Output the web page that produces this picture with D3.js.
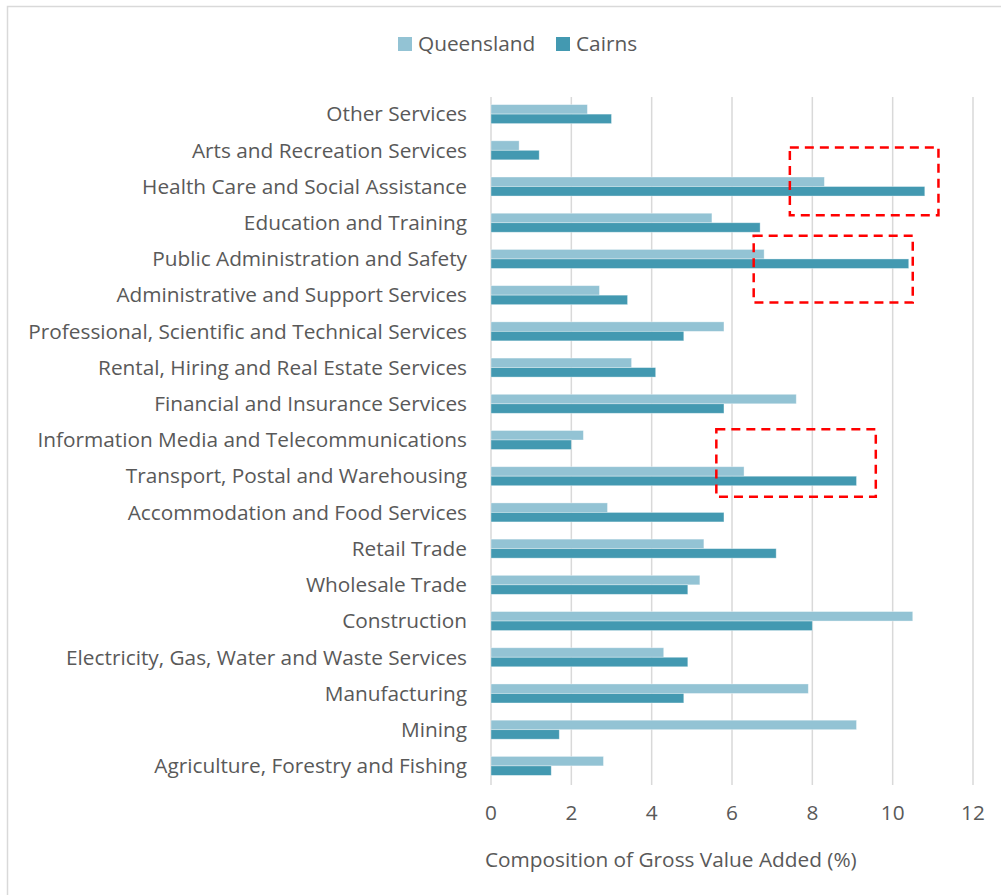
<!DOCTYPE html>
<html>
<head>
<meta charset="utf-8">
<script src="https://cdn.jsdelivr.net/npm/d3@7"></script>
<style>
    body { margin: 0; background: #fff; }
    svg { display: block; font-family: "Open Sans", sans-serif; }
    .grid line { stroke: #d9d9d9; stroke-width: 1.5; }
    .label { fill: #595959; font-size: 20.8px; }
</style>
</head>
<body>
<svg class="chart" width="1001" height="895"></svg>
<script>
const categories = [
    "Other Services",
    "Arts and Recreation Services",
    "Health Care and Social Assistance",
    "Education and Training",
    "Public Administration and Safety",
    "Administrative and Support Services",
    "Professional, Scientific and Technical Services",
    "Rental, Hiring and Real Estate Services",
    "Financial and Insurance Services",
    "Information Media and Telecommunications",
    "Transport, Postal and Warehousing",
    "Accommodation and Food Services",
    "Retail Trade",
    "Wholesale Trade",
    "Construction",
    "Electricity, Gas, Water and Waste Services",
    "Manufacturing",
    "Mining",
    "Agriculture, Forestry and Fishing"
];
const seriesNames = ["Queensland", "Cairns"];
const queensland = [2.4, 0.7, 8.3, 5.5, 6.8, 2.7, 5.8, 3.5, 7.6, 2.3, 6.3, 2.9, 5.3, 5.2, 10.5, 4.3, 7.9, 9.1, 2.8];
const cairns = [3.0, 1.2, 10.8, 6.7, 10.4, 3.4, 4.8, 4.1, 5.8, 2.0, 9.1, 5.8, 7.1, 4.9, 8.0, 4.9, 4.8, 1.7, 1.5];
const xTicks = [0, 2, 4, 6, 8, 10, 12];
const xTitle = "Composition of Gross Value Added (%)";

// hand-drawn highlight boxes, in value units and row units
const boxX0 = [7.44, 6.54, 5.61];
const boxX1 = [11.14, 10.5, 9.58];
const boxRow0 = [1.42, 3.86, 9.2];
const boxRow1 = [3.29, 5.7, 11.07];

const COLORS = ["#93c3d4", "#4399b1"];
const PLOT_LEFT = 491;
const PLOT_RIGHT = 973;
const PLOT_TOP = 96;
const PLOT_BOTTOM = 784;

const svg = d3.select("svg.chart");

// chart frame
svg.append("rect")
    .attr("x", 7.5).attr("y", 6.5)
    .attr("width", 1010).attr("height", 910)
    .attr("fill", "none")
    .attr("stroke", "#d9d9d9")
    .attr("stroke-width", 1.5);

const x = d3.scaleLinear().domain([0, 12]).range([PLOT_LEFT, PLOT_RIGHT]);
const y = d3.scaleBand()
    .domain(categories)
    .range([PLOT_TOP, PLOT_BOTTOM])
    .paddingInner(0.475)
    .paddingOuter(0.2375);
const ySeries = d3.scaleBand().domain(seriesNames).range([0, y.bandwidth()]);
const yRow = d3.scaleLinear().domain([0, categories.length]).range([PLOT_TOP, PLOT_BOTTOM]);

svg.append("g").attr("class", "grid")
    .selectAll("line").data(xTicks)
    .enter().append("line")
    .attr("x1", d => x(d)).attr("x2", d => x(d))
    .attr("y1", PLOT_TOP + 1).attr("y2", PLOT_BOTTOM + 1);

const rows = categories.map((c, i) => ({category: c, values: [queensland[i], cairns[i]]}));

const rowGroups = svg.selectAll("g.row").data(rows)
    .enter().append("g")
    .attr("class", "row")
    .attr("transform", d => `translate(0,${y(d.category)})`);

rowGroups.selectAll("rect")
    .data(d => d.values.map((v, j) => ({series: seriesNames[j], value: v, j})))
    .enter().append("rect")
    .attr("x", x(0))
    .attr("y", d => ySeries(d.series))
    .attr("width", d => x(d.value) - x(0))
    .attr("height", ySeries.bandwidth())
    .attr("fill", d => COLORS[d.j])
    .attr("stroke", "rgba(255,255,255,0.45)")
    .attr("stroke-width", 0.8);

svg.selectAll("text.cat").data(categories)
    .enter().append("text")
    .attr("class", "label cat")
    .attr("x", 467)
    .attr("y", d => y(d) + y.bandwidth() / 2)
    .attr("dy", "0.35em")
    .attr("text-anchor", "end")
    .text(d => d);

svg.selectAll("text.tick").data(xTicks)
    .enter().append("text")
    .attr("class", "label tick")
    .attr("x", d => x(d))
    .attr("y", 813)
    .attr("dy", "0.35em")
    .attr("text-anchor", "middle")
    .text(d => d);

svg.append("text")
    .attr("class", "label")
    .attr("x", 485)
    .attr("y", 860)
    .attr("dy", "0.35em")
    .text(xTitle);

// legend
const legend = svg.append("g").attr("transform", "translate(0,44)");
const legendX = [398, 556];
seriesNames.forEach((name, j) => {
    legend.append("rect")
        .attr("x", legendX[j]).attr("y", -7)
        .attr("width", 14).attr("height", 14)
        .attr("fill", COLORS[j]);
    legend.append("text")
        .attr("class", "label")
        .attr("x", legendX[j] + 20)
        .attr("dy", "0.35em")
        .text(name);
});

// red dashed highlight boxes
svg.selectAll("rect.highlight").data(boxX0)
    .enter().append("rect")
    .attr("class", "highlight")
    .attr("x", (d, i) => x(boxX0[i]))
    .attr("y", (d, i) => yRow(boxRow0[i]))
    .attr("width", (d, i) => x(boxX1[i]) - x(boxX0[i]))
    .attr("height", (d, i) => yRow(boxRow1[i]) - yRow(boxRow0[i]))
    .attr("fill", "none")
    .attr("stroke", "#ff0000")
    .attr("stroke-width", 2.5)
    .attr("stroke-dasharray", "9,6");
</script>
</body>
</html>
